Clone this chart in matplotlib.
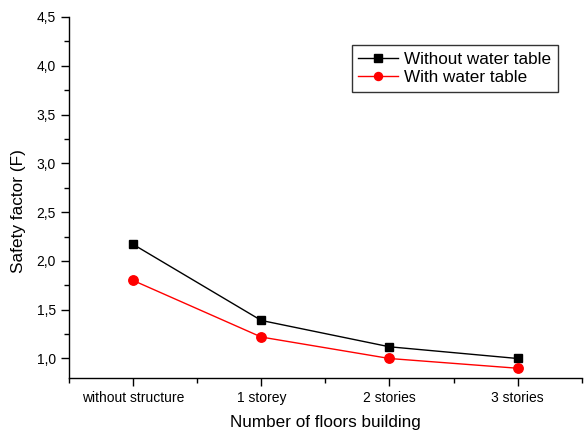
import matplotlib
matplotlib.use("Agg")
import matplotlib.pyplot as plt
from matplotlib.ticker import MultipleLocator, FuncFormatter, FixedLocator

plt.rcParams['font.family'] = ['Liberation Sans', 'DejaVu Sans']

categories = ["without structure", "1 storey", "2 stories", "3 stories"]
without_water = [2.17, 1.39, 1.12, 1.00]
with_water = [1.80, 1.22, 1.00, 0.90]

fig = plt.figure(figsize=(5.86, 4.30), dpi=100)
ax = fig.add_axes([0.1177, 0.1209, 0.8750, 0.8396])

x = list(range(len(categories)))
ax.plot(x, without_water, color='black', marker='s', markersize=6.0, lw=1.0,
        label='Without water table')
ax.plot(x, with_water, color='red', marker='o', markersize=6.8, lw=1.0,
        label='With water table')

ax.set_xlim(-0.5, 3.5)
ax.set_ylim(0.8, 4.5)
ax.set_xticks(x)
ax.set_xticklabels(categories, fontsize=10)
ax.xaxis.set_minor_locator(FixedLocator([-0.5, 0.5, 1.5, 2.5, 3.5]))
ax.yaxis.set_major_locator(MultipleLocator(0.5))
ax.yaxis.set_minor_locator(MultipleLocator(0.25))
ax.yaxis.set_major_formatter(FuncFormatter(lambda v, p: f"{v:.1f}".replace('.', ',')))
ax.tick_params(axis='y', labelsize=10)
ax.tick_params(which='major', direction='out', length=6, width=1)
ax.tick_params(which='minor', direction='out', length=3.5, width=1)

for s in ['top', 'right']:
    ax.spines[s].set_visible(False)
for s in ['left', 'bottom']:
    ax.spines[s].set_linewidth(1.0)

ax.set_xlabel("Number of floors building", fontsize=12.3, labelpad=7)
ax.set_ylabel("Safety factor (F)", fontsize=12.4)
ax.yaxis.set_label_coords(-0.083, 0.463)

leg = ax.legend(loc='upper right', bbox_to_anchor=(0.953, 0.922), borderaxespad=0,
                fontsize=12.3, frameon=True, fancybox=False, edgecolor='black',
                handlelength=2.3, borderpad=0.4, labelspacing=0.2, handletextpad=0.35,
                markerscale=0.85)
leg.get_frame().set_linewidth(1.0)

fig.savefig("out.png", dpi=100)
